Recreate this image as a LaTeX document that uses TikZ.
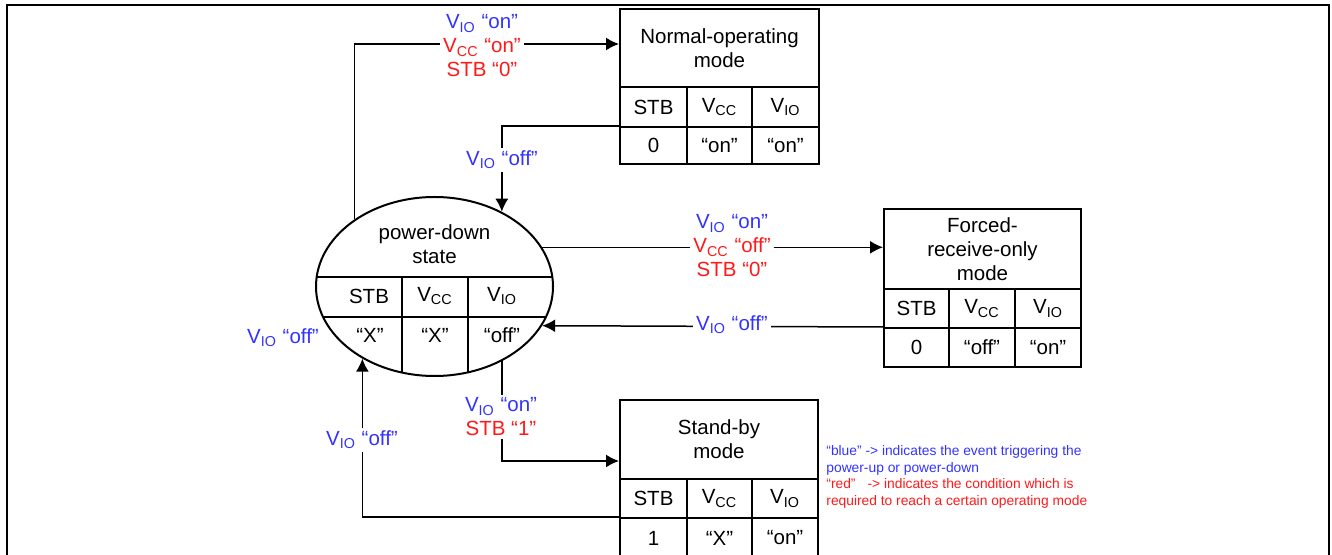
\documentclass[tikz,border=0pt]{standalone}
\usepackage{fontspec}
\setmainfont{Liberation Sans}
\usetikzlibrary{shapes.geometric,arrows.meta}
\definecolor{evblue}{RGB}{51,51,255}
\definecolor{condred}{RGB}{255,25,25}
\newcommand\Vio{V\textsubscript{IO}}
\newcommand\Vcc{V\textsubscript{CC}}
\begin{document}
\begin{tikzpicture}[x=0.5pt,y=-0.5pt,
  every node/.style={font=\fontsize{10.25pt}{12pt}\selectfont},
  cellbox/.style={draw, line width=1pt, anchor=north west, inner sep=0pt, align=center},
  conn/.style={line width=0.75pt},
  arr/.style={conn, -{Latex[length=6.5pt,width=6.5pt]}},
  lab/.style={fill=white, inner sep=1.5pt, align=center, text=evblue},
  ptxt/.style={inner sep=0pt, align=center}]
\useasboundingbox (0,0) rectangle (1332,555);
% frame
\draw[line width=1pt] (7,565) -- (7,5) -- (1329,5) -- (1329,565);

% Normal-operating mode
\node[cellbox, minimum width=99.5pt, minimum height=39pt] (nt) at (619,8) {Normal-operating\\mode};
\node[cellbox, minimum width=33.5pt, minimum height=20pt] (n1) at (619,86) {STB};
\node[cellbox, minimum width=32.5pt, minimum height=20pt] (n2) at (686,86) {\Vcc};
\node[cellbox, minimum width=33.5pt, minimum height=20pt] (n3) at (751,86) {\Vio};
\node[cellbox, minimum width=33.5pt, minimum height=18.5pt] (n4) at (619,126) {0};
\node[cellbox, minimum width=32.5pt, minimum height=18.5pt] (n5) at (686,126) {“on”};
\node[cellbox, minimum width=33.5pt, minimum height=18.5pt] (n6) at (751,126) {“on”};

% Forced-receive-only mode
\node[cellbox, minimum width=98.5pt, minimum height=40pt] (ft) at (883,208) {Forced-\\receive-only\\mode};
\node[cellbox, minimum width=32.5pt, minimum height=19.5pt] (f1) at (883,288) {STB};
\node[cellbox, minimum width=33pt, minimum height=19.5pt] (f2) at (948,288) {\Vcc};
\node[cellbox, minimum width=33pt, minimum height=19.5pt] (f3) at (1014,288) {\Vio};
\node[cellbox, minimum width=32.5pt, minimum height=19.5pt] (f4) at (883,327) {0};
\node[cellbox, minimum width=33pt, minimum height=19.5pt] (f5) at (948,327) {“off”};
\node[cellbox, minimum width=33pt, minimum height=19.5pt] (f6) at (1014,327) {“on”};

% Stand-by mode
\node[cellbox, minimum width=99pt, minimum height=39.5pt] (st) at (619,399) {Stand-by\\mode};
\node[cellbox, minimum width=33.5pt, minimum height=19.5pt] (s1) at (619,478) {STB};
\node[cellbox, minimum width=32.5pt, minimum height=19.5pt] (s2) at (686,478) {\Vcc};
\node[cellbox, minimum width=33pt, minimum height=19.5pt] (s3) at (751,478) {\Vio};
\node[cellbox, minimum width=33.5pt, minimum height=20pt] (s4) at (619,517) {1};
\node[cellbox, minimum width=32.5pt, minimum height=20pt] (s5) at (686,517) {“X”};
\node[cellbox, minimum width=33pt, minimum height=20pt] (s6) at (751,517) {“on”};

% power-down state
\node[draw, ellipse, line width=1pt, inner sep=0pt, minimum width=118.5pt, minimum height=89.5pt] (pd) at (434.5,286.5) {};
\begin{scope}
\clip (434.5,286.5) ellipse [x radius=59.25pt, y radius=44.75pt];
\draw[line width=1pt] (300,277) -- (570,277);
\draw[line width=1pt] (300,317) -- (570,317);
\draw[line width=1pt] (402,277) -- (402,400);
\draw[line width=1pt] (468,277) -- (468,400);
\end{scope}
\node[ptxt] (pdt) at (434.5,244) {power-down\\state};
\node[ptxt] (p1) at (369,296) {STB};
\node[ptxt] (p2) at (435,296) {\Vcc};
\node[ptxt] (p3) at (502,296) {\Vio};
\node[ptxt] (p4) at (370,335) {“X”};
\node[ptxt] (p5) at (435,335) {“X”};
\node[ptxt] (p6) at (502,335) {“off”};

% connectors
\draw[arr] (pd.140.1) |- ([yshift=2pt]nt.west);
\draw[arr] (n4.north west) -| (pd.48.25);
\draw[arr] (pd.20.97) -- (pd.20.97 -| ft.west);
\draw[arr] (f4.north west) -- (pd.-20.97);
\draw[arr] (pd.-48.2) |- ([yshift=-10.75pt]st.west);
\draw[arr] (s4.north west) -| (pd.-135.2);

% labels
\node[lab] (l1) at (482,46) {\Vio{} “on”\\\textcolor{condred}{\Vcc{} “on”}\\\textcolor{condred}{STB “0”}};
\node[lab] (l2) at (502,160) {\Vio{} “off”};
\node[lab] (l3) at (732,246) {\Vio{} “on”\\\textcolor{condred}{\Vcc{} “off”}\\\textcolor{condred}{STB “0”}};
\node[lab] (l4) at (732,325) {\Vio{} “off”};
\node[lab] (l5) at (501,417) {\Vio{} “on”\\\textcolor{condred}{STB “1”}};
\node[lab] (l6) at (362,440) {\Vio{} “off”};
\node[lab] (l7) at (283,338) {\Vio{} “off”};

% legend
\node[anchor=west, align=left, inner sep=0pt, font=\fontsize{6.9pt}{8.35pt}\selectfont] (legend) at (826,477)
 {\textcolor{evblue}{“blue” -> indicates the event triggering the}\\
  \textcolor{evblue}{power-up or power-down}\\
  \textcolor{condred}{“red”\hspace{0.6em} -> indicates the condition which is}\\
  \textcolor{condred}{required to reach a certain operating mode}};
\end{tikzpicture}
\end{document}
